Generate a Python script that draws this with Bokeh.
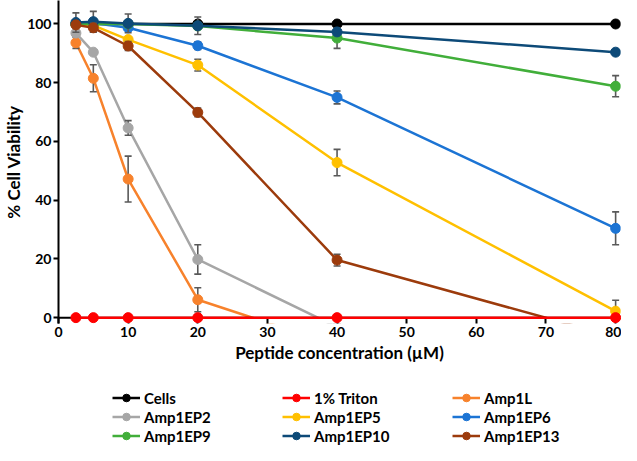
from bokeh.plotting import figure
from bokeh.layouts import column
from bokeh.models import (ColumnDataSource, Legend, LegendItem, Span,
                          FixedTicker, Range1d)
from bokeh.embed import file_html
from bokeh.resources import INLINE

# Peptide concentration (uM)
conc = [2.5, 5, 10, 20, 40, 80]
series_names = ["Cells", "1% Triton", "Amp1L", "Amp1EP2", "Amp1EP5",
                "Amp1EP6", "Amp1EP9", "Amp1EP10", "Amp1EP13"]
cells = [100, 100, 100, 100, 100, 100]
cells_err = [0, 0, 0, 0, 0, 0]
triton = [0, 0, 0, 0, 0, 0]
triton_err = [0, 0, 0, 0, 0, 0]
amp1l = [93.6, 81.5, 47.2, 6.1, -9.5]
amp1l_err = [1.9, 4.6, 7.8, 4.1, 0]
ep2 = [96.9, 90.4, 64.6, 19.8, -3.2]
ep2_err = [1.0, 0, 2.5, 5.0, 0]
ep5 = [100, 99.5, 94.7, 86.0, 52.8, 2.2]
ep5_err = [0, 0, 0, 2.0, 4.5, 3.7]
ep6 = [100, 100.3, 98.7, 92.6, 75.0, 30.4]
ep6_err = [0, 0, 0, 1.3, 2.2, 5.6]
ep9 = [100, 100, 100, 99.3, 95.2, 78.8]
ep9_err = [0, 0, 0, 0, 3.5, 3.6]
ep10 = [100.5, 100.8, 100.2, 99.4, 97.3, 90.4]
ep10_err = [3.3, 3.5, 3.2, 3.0, 0, 0]
ep13 = [99.7, 98.7, 92.5, 69.9, 19.6, -6.6]
ep13_err = [0, 1.5, 1.5, 1.5, 2.0, 0]
x_ticks = [0, 10, 20, 30, 40, 50, 60, 70, 80]
y_ticks = [0, 20, 40, 60, 80, 100]

values = [cells, triton, amp1l, ep2, ep5, ep6, ep9, ep10, ep13]
errors = [cells_err, triton_err, amp1l_err, ep2_err, ep5_err, ep6_err, ep9_err, ep10_err, ep13_err]
colors = ["#000000", "#FF0000", "#F7822C", "#A6A6A6", "#FFC000",
          "#1C74D4", "#41AE3A", "#0D4A78", "#9C3B0C"]
FONT = "Lato"

p = figure(width=621, height=373, output_backend="svg", toolbar_location=None,
           x_range=Range1d(0, 80.7), y_range=Range1d(-2, 108),
           min_border_left=48, min_border_right=1, min_border_top=0,
           min_border_bottom=50)
p.outline_line_color = None
p.xgrid.visible = False
p.ygrid.visible = False

# legend-only figure below the chart (its swatch renderers fall outside its ranges)
p2 = figure(width=621, height=72, output_backend="svg", toolbar_location=None,
            x_range=Range1d(0, 1), y_range=Range1d(0, 1),
            x_axis_location=None, y_axis_location=None,
            min_border_left=0, min_border_right=0, min_border_top=0, min_border_bottom=0)
p2.outline_line_color = None
p2.xgrid.visible = False
p2.ygrid.visible = False

items = []
for name, vals, errs, col in zip(series_names, values, errors, colors):
    xs = conc[:len(vals)]
    src = ColumnDataSource(dict(x=xs, y=vals))
    lvl = "overlay" if name == "1% Triton" else "underlay"
    p.line("x", "y", source=src, line_color=col, line_width=2.5, level=lvl)
    ex = [x for x, e in zip(xs, errs) if e > 0]
    ey0 = [v - e for v, e in zip(vals, errs) if e > 0]
    ey1 = [v + e for v, e in zip(vals, errs) if e > 0]
    if ex:
        esrc = ColumnDataSource(dict(x=ex, y0=ey0, y1=ey1))
        p.segment("x", "y0", "x", "y1", source=esrc, line_color="#595959",
                  line_width=1.6, level="underlay")
        p.scatter("x", "y0", source=esrc, marker="dash", size=7, line_color="#595959",
                  line_width=1.6, level="underlay")
        p.scatter("x", "y1", source=esrc, marker="dash", size=7, line_color="#595959",
                  line_width=1.6, level="underlay")
    p.scatter("x", "y", source=src, marker="circle", size=10,
              fill_color=col, line_color=col, level=lvl)
    l2 = p2.line("x", "y", source=src, line_color=col, line_width=2.5)
    m2 = p2.scatter("x", "y", source=src, marker="circle", size=9,
                    fill_color=col, line_color=col)
    items.append(LegendItem(label=name, renderers=[l2, m2], index=0))

# white mask below y = 0 (values there are off the chart in the original)
p.varea(x=[p.x_range.start - 5, p.x_range.end + 5],
        y1=[p.y_range.start - 20, p.y_range.start - 20], y2=[0, 0],
        fill_color="white", fill_alpha=1.0, level="glyph")
p.add_layout(Span(location=0, dimension="width", line_color="black", line_width=2))

p.xaxis.ticker = FixedTicker(ticks=x_ticks)
p.yaxis.ticker = FixedTicker(ticks=y_ticks)
for ax in (p.xaxis, p.yaxis):
    ax.minor_tick_line_color = None
    ax.major_tick_line_width = 2
    ax.axis_line_width = 2
    ax.major_label_text_font = FONT
    ax.major_label_text_font_style = "bold"
    ax.major_label_text_font_size = "14px"
    ax.major_label_text_color = "black"
    ax.axis_label_text_font = FONT
    ax.axis_label_text_font_style = "bold"
    ax.axis_label_text_font_size = "17px"
    ax.axis_label_text_color = "black"
p.xaxis.axis_line_color = None
p.xaxis.major_tick_in = 6
p.xaxis.major_tick_out = 0
p.xaxis.major_label_standoff = 3
p.xaxis.axis_label = "Peptide concentration (µM)"
p.xaxis.axis_label_standoff = 2
p.yaxis.major_tick_in = 0
p.yaxis.major_tick_out = 5
p.yaxis.major_label_standoff = 2
p.yaxis.axis_label = "% Cell Viability"
p.yaxis.axis_label_standoff = 0

legend = Legend(items=items, orientation="horizontal", ncols=3,
                location=(54, 0), border_line_color=None,
                background_fill_alpha=0,
                label_text_font=FONT, label_text_font_style="bold",
                label_text_font_size="15px", label_text_color="black",
                glyph_width=28, glyph_height=19, label_height=19,
                label_standoff=4, label_width=138, spacing=0,
                padding=0, margin=0)
p2.add_layout(legend)

layout = column(p, p2, spacing=0)
open("out.html", "w").write(file_html(layout, INLINE))
